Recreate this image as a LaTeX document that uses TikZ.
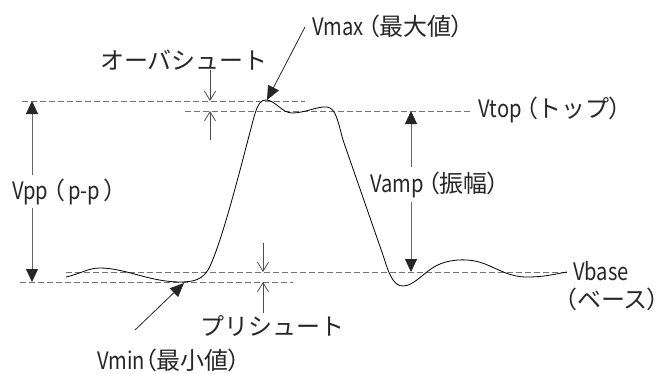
\documentclass[tikz,border=0pt]{standalone}
\usepackage{fontspec}
\setmainfont{Noto Sans CJK JP}
\newfontfamily\jpp[RawFeature=+palt]{Noto Sans CJK JP}
\usetikzlibrary{arrows.meta}
\newcommand\latn[1]{\scalebox{0.84}[1]{#1}}
\newcommand\lpar{{\jpp （}}
\newcommand\rpar{{\jpp ）}}
\begin{document}
\begin{tikzpicture}[x=1pt,y=-1pt,
  lbl/.style={inner sep=0pt,text=black!85,font=\fontsize{24}{28}\selectfont},
  lvl/.style={draw=black!55,dash pattern=on 6pt off 3pt,line width=0.8pt},
  wave/.style={draw=black,line width=0.8pt},
  openarr/.style={draw=black!70,line width=0.8pt,-{Straight Barb[length=9pt,width=11pt,line width=0.8pt]}},
  bigarr/.style={draw=black!60,line width=1pt,-{Triangle[length=13pt,width=12pt,fill=black!85,color=black!85]}},
  ptrarr/.style={draw=black!85,line width=0.8pt,-{Triangle[length=14pt,width=12pt,fill=black!85,color=black!85]}}]
\useasboundingbox (0,0) rectangle (665,373);

% level lines
\coordinate (maxL) at (22,101);  \coordinate (maxR) at (305,101);
\coordinate (topL) at (185,111); \coordinate (topR) at (472,111);
\coordinate (minL) at (20,282);  \coordinate (minR) at (293,282);
\coordinate (baseL) at (66,272); \coordinate (baseR) at (568,272);
\draw[lvl] (maxL) -- (maxR);
\draw[lvl] (topL) -- (topR);
\draw[lvl] (minL) -- (minR);
\draw[lvl] (baseL) -- (baseR);

% waveform
\draw[wave] (66,277) .. controls (80,274) and (88,268) .. (100,268)
  .. controls (125,268) and (150,282) .. (180,282)
  .. controls (195,282) and (202,279) .. (208,270)
  .. controls (222,245) and (245,150) .. (254,117)
  .. controls (258,103) and (261,100) .. (266,100)
  .. controls (275,100) and (282,113) .. (292,113)
  .. controls (305,113) and (318,106) .. (327,107)
  .. controls (336,108) and (338,122) .. (343,140)
  -- (384,258)
  .. controls (390,278) and (395,286) .. (403,286)
  .. controls (415,286) and (425,270) .. (440,264)
  .. controls (452,259) and (470,258) .. (485,264)
  .. controls (500,270) and (510,277) .. (527,277)
  .. controls (545,277) and (555,274) .. (567,272);

% labels
\node[lbl] (ov) at (184,60) {オーバシュート};
\node[lbl,anchor=west] (vmax) at (312,26) {\latn{Vmax}\,\lpar 最大値\rpar};
\node[lbl,anchor=west] (vtop) at (478,110) {\latn{Vtop}\,\lpar トップ\rpar};
\node[lbl,anchor=west] (vpp) at (12,192) {\latn{Vpp}\,\lpar\,\latn{p-p}\,\rpar};
\node[lbl,anchor=west] (vamp) at (370,185) {\latn{Vamp}\,\lpar 振幅\rpar};
\node[lbl,anchor=west] (vbase) at (573,271) {\latn{Vbase}};
\node[lbl,anchor=east] (vbasej) at (660,299) {\lpar ベース\rpar};
\node[lbl,anchor=west] (pre) at (200,326) {プリシュート};
\node[lbl,anchor=west] (vmin) at (97,360) {\latn{Vmin}\lpar 最小値\rpar};

% overshoot arrows
\coordinate (ovA) at (210,70);  \coordinate (ovAt) at (210,101);
\coordinate (ovB) at (210,140); \coordinate (ovBt) at (210,111);
\draw[openarr] (ovA) -- (ovAt);
\draw[openarr] (ovB) -- (ovBt);

% preshoot arrows
\coordinate (prA) at (263,243); \coordinate (prAt) at (263,272);
\coordinate (prB) at (263,313); \coordinate (prBt) at (263,282);
\draw[openarr] (prA) -- (prAt);
\draw[openarr] (prB) -- (prBt);

% Vpp arrows
\coordinate (vppU) at (32,175); \coordinate (vppUt) at (32,101);
\coordinate (vppD) at (32,208); \coordinate (vppDt) at (32,282);
\draw[bigarr] (vppU) -- (vppUt);
\draw[bigarr] (vppD) -- (vppDt);

% Vamp arrows
\coordinate (ampU) at (411,167); \coordinate (ampUt) at (411,111);
\coordinate (ampD) at (411,202); \coordinate (ampDt) at (411,272);
\draw[bigarr] (ampU) -- (ampUt);
\draw[bigarr] (ampD) -- (ampDt);

% pointer arrows
\coordinate (vmaxS) at (305,27); \coordinate (vmaxT) at (267,100);
\draw[ptrarr] (vmaxS) -- (vmaxT);
\coordinate (vminS) at (135,330); \coordinate (vminT) at (184,283);
\draw[ptrarr] (vminS) -- (vminT);
\end{tikzpicture}
\end{document}
